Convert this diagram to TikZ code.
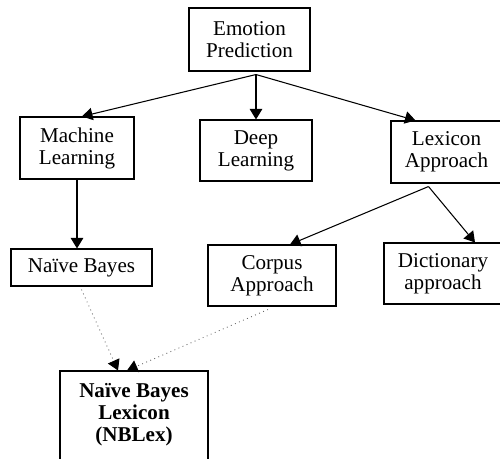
\documentclass[tikz,border=0pt]{standalone}
\usepackage{fontspec}
\setmainfont{Liberation Serif}
\usetikzlibrary{
		calc,
		positioning,
		arrows.meta
	}
\tikzset{
		>={Triangle[length=2.1mm,width=2.5mm]},
		box/.style={draw, line width=0.6pt, align=center, inner sep=0pt,
			font=\fontsize{12}{12.5}\selectfont},
		link/.style={->, line width=0.6pt},
		dotlink/.style={-{Triangle[length=2.1mm,width=2.5mm,black]}, line width=0.5pt, dotted, gray!80!black}
	}

\begin{document}
\begin{tikzpicture}[x=0.02cm, y=-0.02cm]
		\useasboundingbox (0,0) rectangle (500,459);
		% top level
		\node[box, minimum width=121*0.02cm, minimum height=63*0.02cm] (emo) at (249.5,39.5) {Emotion\\ Prediction};
		\node[box, minimum width=114*0.02cm, minimum height=62*0.02cm] (ml) at (77,148) {Machine\\ Learning};
		\node[box, minimum width=112*0.02cm, minimum height=61*0.02cm] (dl) at (256,150.5) {Deep\\ Learning};
		\node[box, minimum width=111*0.02cm, minimum height=62*0.02cm] (la) at (446.5,152) {Lexicon\\ Approach};
		% second level
		\node[box, minimum width=141*0.02cm, minimum height=37*0.02cm] (nb) at (81.5,267.5) {Naïve Bayes};
		\node[box, minimum width=128*0.02cm, minimum height=61*0.02cm] (corpus) at (272,275.5) {Corpus\\ Approach};
		\node[box, minimum width=118*0.02cm, minimum height=61*0.02cm] (dict) at (443,273.5) {Dictionary\\ approach};
		% result
		\node[box, minimum width=148*0.02cm, minimum height=104*0.02cm, font=\fontsize{12}{12.5}\selectfont\bfseries] (nblex) at (134,423) {Naïve Bayes\\ Lexicon\\ (NBLex)\\ \mbox{}};

		\coordinate (fork) at ($(emo.south -| dl.north)+(0,3)$);
		\coordinate (split) at ($(la.south)+(-18,3)$);
		\draw[link] (fork) -- ($(ml.north)+(5,0)$);
		\draw[link] (fork) -- (dl.north);
		\draw[link] (fork) -- ($(la.north)+(-31,0)$);
		\draw[link] (ml.south) -- (ml.south |- nb.north);
		\draw[link] (split) -- ($(corpus.north)+(18,0)$);
		\draw[link] (split) -- ($(dict.north)+(32,0)$);
		\draw[dotlink] ($(nb.south)+(0,3)$) -- ($(nblex.north)+(-16,0)$);
		\draw[dotlink] ($(corpus.south)+(-4,3)$) -- ($(nblex.north)+(-7,0)$);
	\end{tikzpicture}
\end{document}
